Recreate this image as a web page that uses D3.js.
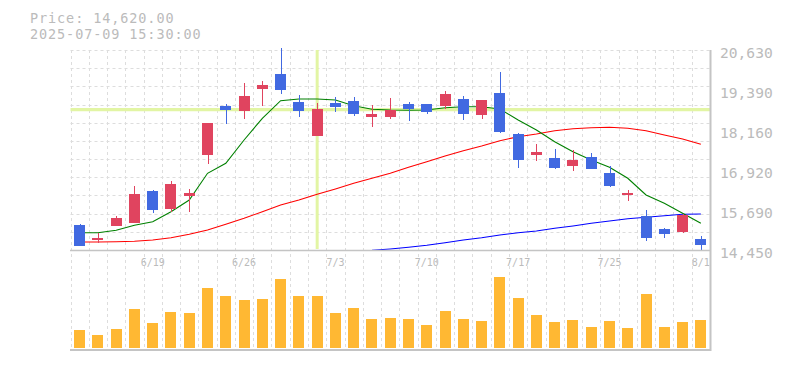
<!DOCTYPE html>
<html>
<head>
<meta charset="utf-8">
<script src="https://cdn.jsdelivr.net/npm/d3@7"></script>
<style>
  html, body { margin: 0; padding: 0; background: #fff; }
  svg { display: block; }
  text { font-family: "DejaVu Sans Mono", monospace; fill: #bbbbbb; }
</style>
</head>
<body>
<svg id="chart" width="785" height="370"></svg>
<script>
// ---- data ----
const dates = ["6/13","6/16","6/17","6/18","6/19","6/20","6/23","6/24","6/25","6/26",
               "6/27","6/30","7/1","7/2","7/3","7/4","7/7","7/8","7/9","7/10",
               "7/11","7/14","7/15","7/16","7/17","7/18","7/22","7/23","7/24","7/25",
               "7/28","7/29","7/30","7/31","8/1"];
const open  = [15222,14759,15201,15284,16273,15717,16128,17386,18900,18754,
               19425,19888,19023,17982,18992,19054,18569,18569,18961,18961,
               18909,19116,18631,19301,18034,17395,17293,17055,17324,16829,
               16159,15501,15099,15015,14790];
const high  = [15253,14966,15510,16437,16313,16582,16335,18374,18961,19610,
               19672,20690,19240,19002,19187,19178,18931,19156,19023,18961,
               19372,19209,19085,19950,18065,17725,17571,17540,17447,17046,
               16313,15686,15139,15562,14883];
const low   = [14583,14657,15201,15284,15593,15633,15624,17107,18353,18498,
               18900,19280,18569,17982,18723,18600,18260,18507,18445,18662,
               18816,18476,18507,18075,16993,17209,16962,16900,16962,16406,
               15973,14737,14830,14985,14428];
const close = [14583,14821,15448,16180,15686,16489,16211,18374,18785,19209,
               19549,19403,18754,18807,18878,18662,18652,18776,18807,18724,
               19280,18662,19085,18105,17240,17478,16993,17231,16962,16437,
               16221,14830,14954,15532,14614];
const volume = [180,130,190,390,250,360,350,600,520,480,
                490,690,520,520,350,400,290,300,290,230,
                370,290,270,710,500,330,260,280,210,270,
                200,540,210,260,280];
const ma5  = [14985,14985,15059,15213,15324,15633,15995,16820,17129,17849,
              18520,19063,19116,19116,19085,18909,18798,18776,18767,18776,
              18847,18878,18878,18807,18467,18158,17796,17487,17231,17005,
              16666,16150,15893,15584,15275];
const ma25 = [14697,14697,14706,14719,14759,14830,14935,15068,15244,15430,
              15633,15841,15995,16171,16335,16511,16666,16820,17005,17178,
              17355,17518,17664,17827,17951,18034,18136,18198,18229,18241,
              18211,18136,18004,17880,17716];
const ma75 = [null,null,null,null,null,null,null,null,null,null,
              null,null,null,null,null,null,14441,14481,14533,14595,
              14676,14759,14830,14914,14985,15037,15121,15192,15275,15346,
              15417,15460,15510,15553,15562];
const priceTicks = [20630, 19390, 18160, 16920, 15690, 14450];
const dateLabels = ["6/19","6/26","7/3","7/10","7/17","7/25","8/1"];
const titleLines = ["Price: 14,620.00", "2025-07-09 15:30:00"];
const cursorIndex = 13;
const cursorPrice = 18790;

// ---- layout ----
const svg = d3.select("#chart");
const L = 70.5, R = 710, PT = 50, PB = 250, VB = 348, VBot = 350;
const n = dates.length;
const x = d3.scaleBand().domain(d3.range(n)).range([L, R]).paddingInner(0.4).paddingOuter(0.2);
const y = d3.scaleLinear().domain([14450, 20630]).range([PB, PT]);
const yv = d3.scaleLinear().domain([0, 1000]).range([VB, VB - 100]);
const cx = i => x(i) + x.bandwidth() / 2;
const step = x.step();

const gridColor = "#dddddd";

// horizontal grid (price panel)
const g = svg.append("g");
const nh = 11;
for (let k = 1; k <= nh; k++) {
  const v = 14450 + k * (20630 - 14450) / nh;
  const yy = Math.round(y(v)) + 0.5;
  g.append("line").attr("x1", L).attr("x2", R).attr("y1", yy).attr("y2", yy)
    .attr("stroke", gridColor).attr("stroke-dasharray", "3,3");
}
// vertical grid
for (let i = 0; i < n; i++) {
  const xx = Math.round(L + i * step) + 0.5;
  g.append("line").attr("x1", xx).attr("x2", xx).attr("y1", PT).attr("y2", VBot)
    .attr("stroke", gridColor).attr("stroke-dasharray", "3,3");
}

// crosshair
svg.append("line").attr("x1", L).attr("x2", R)
  .attr("y1", y(cursorPrice)).attr("y2", y(cursorPrice))
  .attr("stroke", "#e2f5a4").attr("stroke-width", 3.3);
svg.append("line").attr("x1", cx(cursorIndex)).attr("x2", cx(cursorIndex))
  .attr("y1", PT).attr("y2", PB - 1)
  .attr("stroke", "#e2f5a4").attr("stroke-width", 3);

// moving averages
const lg = (data, color) => svg.append("path")
  .attr("d", d3.line().defined(d => d[1] != null).x(d => cx(d[0])).y(d => y(d[1]))(data.map((v, i) => [i, v])))
  .attr("fill", "none").attr("stroke", color).attr("stroke-width", 1.1);
lg(ma75, "#0000ff");
lg(ma25, "#ff0000");
lg(ma5, "#008000");

// candles
const up = "#e0445f", down = "#4169e1";
const cg = svg.append("g").attr("shape-rendering", "crispEdges");
for (let i = 0; i < n; i++) {
  const col = close[i] >= open[i] ? up : down;
  const c = Math.round(cx(i)) + 0.5;
  cg.append("line").attr("x1", c).attr("x2", c).attr("y1", y(high[i])).attr("y2", y(low[i]))
    .attr("stroke", col).attr("stroke-width", 1.4);
  const top = y(Math.max(open[i], close[i])), bot = y(Math.min(open[i], close[i]));
  cg.append("rect").attr("x", Math.round(cx(i) - 5.5)).attr("width", 11)
    .attr("y", top).attr("height", Math.max(2, bot - top)).attr("fill", col);
}

// volume bars
svg.append("g").attr("shape-rendering", "crispEdges").selectAll("rect").data(volume).join("rect")
  .attr("x", (d, i) => Math.round(cx(i) - 5.5)).attr("width", 11)
  .attr("y", d => yv(d)).attr("height", d => VB - yv(d)).attr("fill", "#ffb833");

// frame lines
const frame = "#c4c4c4";
svg.append("line").attr("x1", L - 0.5).attr("x2", R + 1).attr("y1", PB + 0.5).attr("y2", PB + 0.5)
  .attr("stroke", frame).attr("stroke-width", 1.5);
svg.append("line").attr("x1", L - 0.5).attr("x2", R + 1).attr("y1", VBot).attr("y2", VBot)
  .attr("stroke", frame).attr("stroke-width", 2);
svg.append("line").attr("x1", R + 0.5).attr("x2", R + 0.5).attr("y1", PT).attr("y2", VBot + 1)
  .attr("stroke", frame).attr("stroke-width", 2);

// price axis labels
svg.append("g").selectAll("text").data(priceTicks).join("text")
  .attr("x", 720).attr("y", d => y(d) + 8)
  .attr("font-size", "14.6px")
  .text(d => d3.format(",")(d));

// date labels
svg.append("g").selectAll("text").data(dateLabels).join("text")
  .attr("x", d => cx(dates.indexOf(d))).attr("y", 265.5)
  .attr("text-anchor", "middle").attr("font-size", "10px")
  .text(d => d);

// title
svg.append("g").selectAll("text").data(titleLines).join("text")
  .attr("x", 30).attr("y", (d, i) => 22.5 + i * 16)
  .attr("font-size", "13.5px").attr("letter-spacing", "0.9px")
  .text(d => d);
</script>
</body>
</html>
